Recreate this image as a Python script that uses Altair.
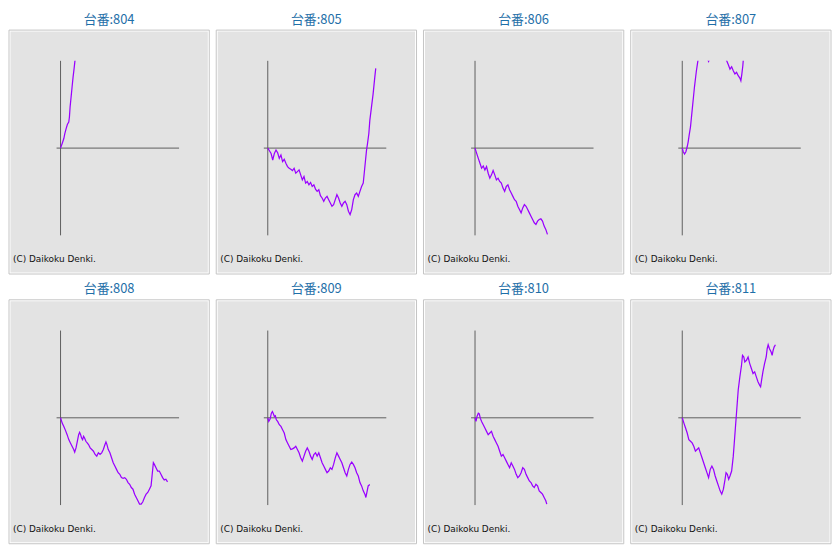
import altair as alt
import pandas as pd

# machine numbers (台番)
machines = [804, 805, 806, 807, 808, 809, 810, 811]

# games played (x) and coin difference (y) for each machine
games_804 = [0, 125, 250, 325, 425, 525, 625, 675, 725, 800, 875, 950, 1025, 1100, 1175]
coins_804 = [0, 280, 580, 880, 1180, 1440, 1580, 1880, 2480, 3080, 3680, 4280, 4780, 5320, 5880]

games_805 = [0, 125, 250, 375, 500, 625, 750, 875, 1000, 1125, 1250, 1375, 1500, 1625, 1750, 1875,
             2000, 2125, 2250, 2375, 2500, 2625, 2750, 2875, 3000, 3125, 3250, 3375, 3500, 3625,
             3750, 3875, 4000, 4125, 4250, 4375, 4500, 4625, 4750, 4875, 5000, 5125, 5250, 5375,
             5500, 5625, 5750, 5875, 6000, 6125, 6250, 6375, 6500, 6625, 6750, 6875, 7000, 7125,
             7250, 7325, 7425, 7500, 7575, 7675, 7750, 7875, 8000, 8125, 8200]
coins_805 = [0, -160, -320, -720, -320, -120, -280, -620, -420, -820, -680, -920, -1120, -1220, -1280,
             -1360, -1220, -1520, -1420, -1320, -1620, -1920, -1720, -2120, -2020, -2220, -2080,
             -2320, -2220, -2480, -2620, -2520, -2880, -3020, -3220, -3020, -2920, -3120, -3320,
             -3520, -3420, -3120, -2820, -3020, -3320, -3520, -3320, -3220, -3420, -3820, -4020,
             -3720, -3120, -2820, -2720, -2920, -2620, -2320, -2120, -1520, -720, -120, 280, 880,
             1680, 2480, 3280, 4280, 4820]

games_806 = [0, 125, 250, 375, 500, 625, 750, 875, 1000, 1125, 1250, 1375, 1500, 1625, 1750, 1875,
             2000, 2125, 2250, 2375, 2500, 2625, 2750, 2875, 3000, 3125, 3250, 3375, 3500, 3625,
             3750, 3875, 4000, 4125, 4250, 4375, 4500, 4625, 4750, 4875, 5000, 5125, 5250, 5375, 5500]
coins_806 = [0, -320, -620, -920, -1220, -1080, -1320, -1120, -1520, -1820, -1620, -1360, -1620,
             -1920, -1820, -2020, -2120, -2420, -2620, -2320, -2220, -2520, -2720, -2920, -3120,
             -3220, -3520, -3720, -3920, -3620, -3420, -3520, -3720, -3920, -4120, -4320, -4520,
             -4620, -4420, -4320, -4280, -4420, -4720, -4920, -5220]

games_807 = [0, 75, 175, 275, 375, 450, 525, 625, 700, 775, 850, 925, 1000, 1075, 1150, 1225, 1500,
             1875, 2000, 2125, 2625, 3250, 3375, 3500, 3625, 3750, 3875, 4000, 4125, 4250, 4375,
             4450, 4525, 4600, 4650]
coins_807 = [0, -220, -360, -220, 80, 380, 780, 1280, 1880, 2480, 3080, 3680, 4180, 4680, 5080, 5480,
             6080, 5480, 5250, 5480, 6080, 5580, 5280, 5040, 4780, 4920, 4680, 4480, 4580, 4380,
             4240, 4080, 4480, 4980, 5480]

games_808 = [0, 125, 250, 375, 500, 625, 750, 875, 1000, 1075, 1175, 1275, 1375, 1450, 1525, 1600,
             1675, 1750, 1825, 1925, 2025, 2125, 2250, 2375, 2500, 2625, 2750, 2875, 3000, 3125,
             3250, 3375, 3450, 3525, 3625, 3750, 3875, 4000, 4125, 4250, 4375, 4500, 4625, 4750,
             4875, 5000, 5125, 5250, 5375, 5500, 5625, 5750, 5875, 6000, 6125, 6250, 6375, 6500,
             6625, 6750, 6875, 6950, 7050, 7125, 7250, 7375, 7500, 7625, 7750, 7875, 8000, 8125]
coins_808 = [0, -320, -520, -760, -1020, -1320, -1520, -1720, -1920, -2080, -1820, -1420, -1020,
             -880, -1020, -1220, -1320, -1120, -1220, -1420, -1520, -1620, -1820, -1920, -2020,
             -2220, -2320, -2120, -2220, -2120, -1920, -1620, -1460, -1620, -1920, -2120, -2420,
             -2720, -2920, -3120, -3320, -3420, -3620, -3660, -3620, -3720, -3920, -4020, -4220,
             -4320, -4620, -4820, -5020, -5220, -5220, -5080, -4820, -4620, -4520, -4320, -4120,
             -3520, -2720, -2820, -3020, -3220, -3220, -3420, -3620, -3760, -3720, -3880]

games_809 = [0, 75, 175, 275, 350, 425, 500, 575, 650, 750, 875, 1000, 1125, 1250, 1375, 1500, 1625,
             1750, 1875, 2000, 2125, 2250, 2375, 2500, 2625, 2750, 2875, 3000, 3125, 3250, 3375,
             3500, 3625, 3750, 3875, 4000, 4125, 4250, 4375, 4500, 4625, 4750, 4875, 5000, 5125,
             5250, 5375, 5500, 5625, 5750, 5875, 6000, 6125, 6250, 6375, 6500, 6625, 6750, 6875,
             7000, 7125, 7250, 7375, 7450, 7550, 7625, 7750]
coins_809 = [0, -220, -80, 280, 380, 240, 80, 120, -120, -220, -420, -520, -720, -920, -1320, -1520,
             -1720, -1920, -1880, -1820, -1720, -1920, -2120, -2420, -2620, -2320, -2020, -1820,
             -2020, -2320, -2520, -2220, -2120, -2320, -2120, -2420, -2720, -2920, -3120, -3320,
             -3220, -3020, -3120, -2820, -2420, -2120, -2320, -2520, -2720, -3020, -3320, -3520,
             -3120, -2820, -2680, -2820, -3020, -3320, -3520, -3920, -4120, -4420, -4620, -4820,
             -4420, -4120, -4040]

games_810 = [0, 75, 150, 250, 325, 400, 500, 625, 750, 875, 1000, 1125, 1250, 1375, 1500, 1625, 1750,
             1875, 2000, 2125, 2250, 2375, 2500, 2625, 2750, 2875, 3000, 3125, 3250, 3375, 3500,
             3625, 3750, 3875, 4000, 4125, 4250, 4375, 4500, 4625, 4750, 4875, 5000, 5125, 5250,
             5375, 5450]
coins_810 = [0, -220, 80, 280, 240, -20, -220, -420, -620, -820, -1020, -920, -820, -1120, -1320,
             -1520, -1720, -2020, -2320, -2220, -2420, -2620, -2820, -3020, -2720, -2920, -3120,
             -3420, -3620, -3520, -3320, -3020, -3120, -3420, -3620, -3820, -3920, -4120, -4220,
             -4020, -4120, -4420, -4520, -4620, -4820, -5020, -5220]

games_811 = [0, 125, 250, 375, 500, 625, 750, 875, 1000, 1125, 1250, 1375, 1500, 1625, 1750, 1875,
             2000, 2125, 2250, 2375, 2500, 2625, 2750, 2875, 3000, 3125, 3250, 3325, 3425, 3525,
             3625, 3750, 3875, 3950, 4025, 4100, 4175, 4250, 4375, 4500, 4575, 4675, 4750, 4875,
             5000, 5125, 5250, 5375, 5500, 5625, 5750, 5875, 5950, 6025, 6125, 6250, 6375, 6450,
             6525, 6625, 6750, 6825, 6900, 6975, 7075]
coins_811 = [0, -320, -620, -920, -1320, -1420, -1520, -1720, -2020, -1920, -1820, -2120, -2420,
             -2720, -3020, -3320, -3620, -3120, -2920, -3120, -3520, -3820, -4120, -4420, -4620,
             -4320, -3720, -3320, -3420, -3720, -3520, -3220, -2320, -1520, -720, 80, 880, 1680,
             2480, 3180, 3780, 3680, 3380, 3480, 3680, 3280, 2980, 2680, 2780, 2480, 2180, 1980,
             1880, 2280, 2780, 3280, 3680, 4180, 4420, 4180, 3980, 3780, 4080, 4280, 4420]

series = {
    804: (games_804, coins_804), 805: (games_805, coins_805),
    806: (games_806, coins_806), 807: (games_807, coins_807),
    808: (games_808, coins_808), 809: (games_809, coins_809),
    810: (games_810, coins_810), 811: (games_811, coins_811),
}

X_DOMAIN = [-300, 9000]
Y_DOMAIN = [-5280, 5280]
xscale = alt.Scale(domain=X_DOMAIN, range=[16, 139.5], nice=False, zero=False)
yscale = alt.Scale(domain=Y_DOMAIN, nice=False, zero=False)

one = pd.DataFrame({"k": [0]})


def panel(m):
    g, c = series[m]
    df = pd.DataFrame({"games": g, "coins": c})
    frame_out = alt.Chart(one).mark_rect(fill="#ffffff", stroke="#c4c4c4", strokeWidth=1).encode(
        x=alt.value(-32), x2=alt.value(170), y=alt.value(-31), y2=alt.value(215))
    frame_in = alt.Chart(one).mark_rect(fill="#e3e3e3").encode(
        x=alt.value(-30.5), x2=alt.value(168.5), y=alt.value(-29.5), y2=alt.value(213.5))
    vaxis = alt.Chart(one).mark_rule(color="#5e5e5e", strokeWidth=1).encode(
        x=alt.X(datum=0, scale=xscale, axis=None),
        y=alt.Y(datum=Y_DOMAIN[0], scale=yscale, axis=None),
        y2=alt.Y2(datum=Y_DOMAIN[1]))
    haxis = alt.Chart(one).mark_rule(color="#5e5e5e", strokeWidth=1).encode(
        x=alt.X(datum=X_DOMAIN[0], scale=xscale, axis=None),
        x2=alt.X2(datum=X_DOMAIN[1]),
        y=alt.Y(datum=0, scale=yscale, axis=None))
    line = alt.Chart(df).mark_line(color="#9900ff", strokeWidth=1.25, clip=True).encode(
        x=alt.X("games:Q", scale=xscale, axis=None),
        y=alt.Y("coins:Q", scale=yscale, axis=None))
    copy = alt.Chart(one).mark_text(
        text="(C) Daikoku Denki.", align="left", baseline="middle",
        font="DejaVu Sans", fontSize=9, color="#111111").encode(
        x=alt.value(-28), y=alt.value(200))
    return alt.layer(frame_out, frame_in, vaxis, haxis, line, copy).properties(
        width=138, height=176,
        title=alt.Title(f"台番:{m}", font="Noto Sans CJK JP", fontSize=13,
                        fontWeight="normal", color="#1f6fa8", offset=3),
    )


chart = alt.concat(*[panel(m) for m in machines], columns=4,
                   spacing={"row": 8, "column": 5}).configure_view(
    stroke=None).properties(
    padding={"top": 3, "left": 0, "right": 0, "bottom": 0}, background="#ffffff")

chart.save("out.html", embed_options={"renderer": "svg", "actions": False})
